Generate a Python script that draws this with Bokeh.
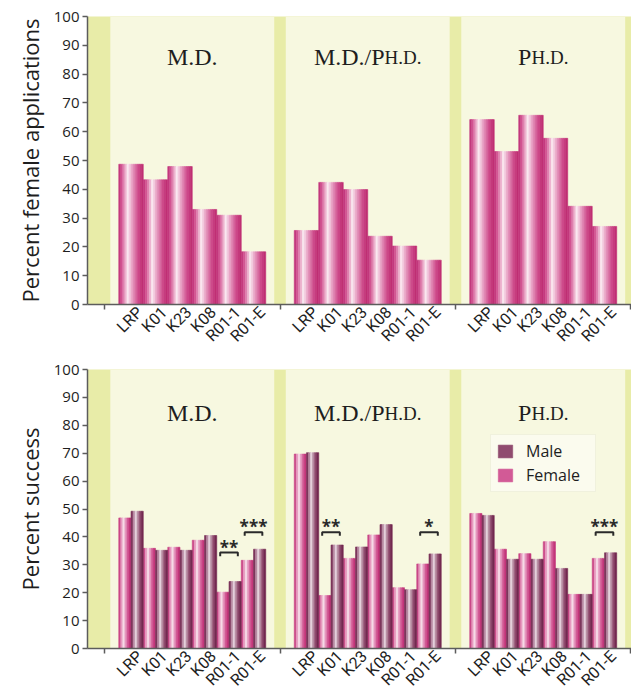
import numpy as np
from bokeh.plotting import figure
from bokeh.models import (FixedTicker, CustomJSTickFormatter, Legend, LegendItem,
                          ColumnDataSource, Range1d)
from bokeh.layouts import column
from bokeh.embed import file_html
from bokeh.resources import INLINE
from bokeh.core.properties import value

# ---------------- data ----------------
degrees = ["M.D.", "M.D./Ph.D.", "Ph.D."]
title_big = ["M.D.", "M.D./P", "P"]        # small-caps rendering of the degree names
title_small = ["", "H.D.", "H.D."]
mechanisms = ["LRP", "K01", "K23", "K08", "R01-1", "R01-E"]

female_apps_md = [48.7, 43.3, 47.9, 33.0, 31.0, 18.3]
female_apps_mdphd = [25.7, 42.4, 39.9, 23.7, 20.3, 15.4]
female_apps_phd = [64.2, 53.1, 65.7, 57.7, 34.1, 27.1]

success_female_md = [46.8, 35.9, 36.3, 38.8, 20.2, 31.6]
success_male_md = [49.2, 35.2, 35.2, 40.5, 24.0, 35.6]
success_female_mdphd = [69.7, 19.0, 32.3, 40.7, 21.8, 30.3]
success_male_mdphd = [70.2, 37.1, 36.4, 44.4, 21.1, 33.9]
success_female_phd = [48.4, 35.6, 34.0, 38.3, 19.4, 32.3]
success_male_phd = [47.7, 32.0, 32.0, 28.7, 19.4, 34.3]

# significance markers: degree index, mechanism index, bracket level, label
sig_degree = [0, 0, 1, 1, 2]
sig_mech = [4, 5, 1, 5, 5]
sig_level = [34.4, 41.7, 41.7, 41.7, 41.7]
sig_label = ["**", "***", "**", "*", "***"]

apps = [female_apps_md, female_apps_mdphd, female_apps_phd]
succ_f = [success_female_md, success_female_mdphd, success_female_phd]
succ_m = [success_male_md, success_male_mdphd, success_male_phd]

# ---------------- style ----------------
X_START, X_END = -0.097, 3.003
GROUP_PX = 175.5
BAR_W = 0.1396
LABEL_SHIFT = 0.05          # rotated labels end a little right of the bar centre
PANEL_HALF = 0.467
CREAM = "#f7f8e0"
GREEN = "#e8eca8"
AXIS = "#5c5c5c"
TEXT = "#1e1e1e"
SANS = "Open Sans"
TICK_SANS = "Roboto"
SERIF = "Liberation Serif"
BIG, SMALL = 24, 19

F_STOPS = [(0.0, (0xbc, 0x2a, 0x72)), (0.15, (0xd6, 0x5c, 0x98)), (0.38, (0xfb, 0xea, 0xf2)),
           (0.55, (0xe8, 0xa2, 0xc5)), (0.8, (0xcd, 0x48, 0x8a)), (1.0, (0xbc, 0x28, 0x6e))]
M_STOPS = [(0.0, (0x68, 0x1f, 0x46)), (0.15, (0x8c, 0x46, 0x6c)), (0.38, (0xee, 0xe0, 0xe8)),
           (0.55, (0xbe, 0x96, 0xaa)), (0.8, (0x84, 0x38, 0x60)), (1.0, (0x68, 0x1f, 0x46))]


def grad(stops, t):
    for (t0, c0), (t1, c1) in zip(stops[:-1], stops[1:]):
        if t0 <= t <= t1:
            f = (t - t0) / (t1 - t0)
            c = [round(a + (b - a) * f) for a, b in zip(c0, c1)]
            return "#%02x%02x%02x" % tuple(c)
    return "#%02x%02x%02x" % stops[-1][1]


def slot_centers(g):
    return [g + 0.5 + (i - 2.5) * BAR_W for i in range(len(mechanisms))]


def strip_source(centers, width, heights, stops, n):
    L, R, T, C = [], [], [], []
    for c, h in zip(centers, heights):
        x0 = c - width / 2
        for k in range(n):
            L.append(x0 + k * width / n)
            R.append(x0 + (k + 1) * width / n)
            T.append(h)
            C.append(grad(stops, (k + 0.5) / n))
    return ColumnDataSource(dict(left=L, right=R, top=T, bottom=[0] * len(T), color=C))


SERIF_EM = {'M': 0.889, 'D': 0.722, 'H': 0.722, 'P': 0.556, '.': 0.25, '/': 0.278}


def text_w(s, size):
    return sum(SERIF_EM.get(ch, 0.6) for ch in s) * size


all_centers = [c for g in range(3) for c in slot_centers(g)]
label_ticks = [c + LABEL_SHIFT for c in all_centers]


def make_base(height, btop, bbot, ylabel, title_y):
    p = figure(width=631, height=height, x_range=Range1d(X_START, X_END), y_range=Range1d(0, 100),
               output_backend="svg", toolbar_location=None,
               min_border_left=87, min_border_right=0, min_border_top=btop, min_border_bottom=bbot)
    p.background_fill_color = GREEN
    p.border_fill_color = "white"
    p.outline_line_color = None
    p.grid.visible = False
    p.quad(left=[g + 0.5 - PANEL_HALF for g in range(3)], right=[g + 0.5 + PANEL_HALF for g in range(3)],
           bottom=0, top=100, fill_color=CREAM, line_color=None)

    # y axis
    p.yaxis.ticker = FixedTicker(ticks=list(range(0, 101, 10)))
    p.yaxis.axis_label = ylabel
    p.yaxis.axis_label_text_font = SANS
    p.yaxis.axis_label_text_font_size = "22px"
    p.yaxis.axis_label_text_font_style = "normal"
    p.yaxis.axis_label_text_color = TEXT
    p.yaxis.axis_label_standoff = 6
    p.yaxis.major_label_text_font = SANS
    p.yaxis.major_label_text_font_size = "15px"
    p.yaxis.major_label_text_color = TEXT
    p.yaxis.major_label_standoff = 3
    p.yaxis.major_tick_out = 5
    p.yaxis.major_tick_in = 0
    p.yaxis.minor_tick_line_color = None
    p.yaxis.axis_line_color = AXIS
    p.yaxis.axis_line_width = 1.5
    p.yaxis.major_tick_line_color = AXIS
    p.yaxis.major_tick_line_width = 1.5

    # x axis: labels near bar centres, small ticks at group separators
    p.xaxis.ticker = FixedTicker(ticks=label_ticks, minor_ticks=[0, 1, 2, 3])
    p.xaxis.formatter = CustomJSTickFormatter(
        args=dict(names=mechanisms, centers=label_ticks),
        code="""
        let i = (typeof index !== 'undefined') ? index : -1;
        if (i < 0) {
            let best = 0, bd = 1e9;
            for (let k = 0; k < centers.length; k++) {
                const d = Math.abs(centers[k] - tick);
                if (d < bd) { bd = d; best = k; }
            }
            i = best;
        }
        return names[i % names.length];
        """)
    p.xaxis.major_label_orientation = np.pi / 4
    p.xaxis.major_label_text_font = TICK_SANS
    p.xaxis.major_label_text_font_size = "16px"
    p.xaxis.major_label_text_color = TEXT
    p.xaxis.major_label_standoff = 0
    p.xaxis.major_tick_line_color = None
    p.xaxis.major_tick_out = 0
    p.xaxis.major_tick_in = 0
    p.xaxis.minor_tick_out = 5
    p.xaxis.minor_tick_in = 0
    p.xaxis.minor_tick_line_color = AXIS
    p.xaxis.minor_tick_line_width = 1.5
    p.xaxis.axis_line_color = AXIS
    p.xaxis.axis_line_width = 1.5

    # degree titles in small caps
    bx, sx = [], []
    for g in range(3):
        wb = text_w(title_big[g], BIG)
        ws = text_w(title_small[g], SMALL)
        junction = g + 0.5 + (wb - ws) / 2 / GROUP_PX
        bx.append(junction)
        sx.append(junction)
    p.text(x=bx, y=[title_y] * 3, text=title_big, text_align="right", text_baseline="alphabetic",
           text_font=value(SERIF), text_font_size=f"{BIG}px", text_color=TEXT)
    p.text(x=sx, y=[title_y] * 3, text=title_small, text_align="left", text_baseline="alphabetic",
           text_font=value(SERIF), text_font_size=f"{SMALL}px", text_color=TEXT)
    return p


# ---------------- top: percent female applications ----------------
p1 = make_base(358, 16, 54, "Percent female applications", 85.8)
top_src = strip_source(all_centers, BAR_W, [v for grp in apps for v in grp], F_STOPS, 12)
p1.quad(left="left", right="right", top="top", bottom="bottom", source=top_src,
        fill_color="color", line_color="color", line_width=0.6)

# ---------------- bottom: percent success ----------------
p2 = make_base(341, 11, 50, "Percent success", 84.4)
f_src = strip_source([c - BAR_W / 4 for c in all_centers], BAR_W / 2,
                     [v for grp in succ_f for v in grp], F_STOPS, 6)
m_src = strip_source([c + BAR_W / 4 for c in all_centers], BAR_W / 2,
                     [v for grp in succ_m for v in grp], M_STOPS, 6)
rf = p2.quad(left="left", right="right", top="top", bottom="bottom", source=f_src,
             fill_color="color", line_color="color", line_width=0.6)
rm = p2.quad(left="left", right="right", top="top", bottom="bottom", source=m_src,
             fill_color="color", line_color="color", line_width=0.6)

# significance brackets
xs, ys, tx, ty = [], [], [], []
for g, m, lvl in zip(sig_degree, sig_mech, sig_level):
    c = slot_centers(g)[m]
    x0, x1 = c - 0.36 * BAR_W, c + 0.36 * BAR_W
    xs.append([x0, x0, x1, x1])
    ys.append([lvl - 1.3, lvl, lvl, lvl - 1.3])
    tx.append(c)
    ty.append(lvl + 1.9)
p2.multi_line(xs=xs, ys=ys, line_color="#2a2a2a", line_width=2)
p2.text(x=tx, y=ty, text=sig_label, text_align="center", text_baseline="alphabetic",
        text_font=value(SANS), text_font_size="17px", text_font_style="bold", text_color="#2a2a2a")

legend = Legend(items=[LegendItem(label="Male", renderers=[rm], index=4),
                       LegendItem(label="Female", renderers=[rf], index=4)],
                location=(403, 156))
legend.background_fill_color = "#fbfbee"
legend.background_fill_alpha = 1
legend.border_line_color = "#e6e8cc"
legend.label_text_font = SANS
legend.label_text_font_size = "16px"
legend.label_text_color = TEXT
legend.glyph_width = 18
legend.glyph_height = 16
legend.label_standoff = 12
legend.label_width = 64
legend.spacing = 2
legend.padding = 5
legend.margin = 0
p2.add_layout(legend)

layout = column(p1, p2)
open("out.html", "w").write(file_html(layout, INLINE))
